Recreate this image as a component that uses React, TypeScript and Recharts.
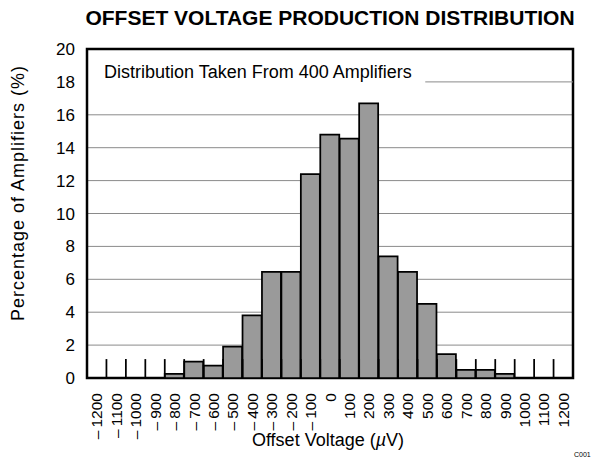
import { BarChart, Bar, XAxis, YAxis, CartesianGrid, ReferenceLine, ReferenceArea } from 'recharts';

const FONT = '"Liberation Sans", Arial, Helvetica, sans-serif';

// bin centres in µV and the share of the 400 parts that fell in each bin
const offsetBins = [
  -1200, -1100, -1000, -900, -800, -700, -600, -500, -400, -300, -200, -100,
  0, 100, 200, 300, 400, 500, 600, 700, 800, 900, 1000, 1100, 1200,
];
const binLabels = [
  '–\u20091200', '–\u20091100', '–\u20091000', '–\u2009900', '–\u2009800', '–\u2009700',
  '–\u2009600', '–\u2009500', '–\u2009400', '–\u2009300', '–\u2009200', '–\u2009100',
  '0', '100', '200', '300', '400', '500', '600', '700', '800', '900', '1000', '1100', '1200',
];
const percentages = [
  0, 0, 0, 0, 0.25, 1.0, 0.75, 1.9, 3.8, 6.45, 6.45, 12.4,
  14.8, 14.55, 16.7, 7.4, 6.45, 4.5, 1.45, 0.5, 0.5, 0.25, 0, 0, 0,
];

const yTicks = [0, 2, 4, 6, 8, 10, 12, 14, 16, 18, 20];
const gridValues = [2, 4, 6, 8, 10, 12, 14, 16];
// short marks standing on the x axis between the bins
const binEdges = [
  -1150, -1050, -950, -850, -750, -650, -550, -450, -350, -250, -150, -50,
  50, 150, 250, 350, 450, 550, 650, 750, 850, 950, 1050, 1150,
];
const EDGE_MARK_HEIGHT = 1.15;
// the 18% grid line only shows to the right of the note
const noteLineStart = 490;

const data = offsetBins.map((v, i) => ({ label: binLabels[i], v, pct: percentages[i] }));

function RotatedTick({ x, y, payload }: any) {
  return (
    <text
      transform={`translate(${x},${y + 7}) rotate(-90)`}
      textAnchor="end"
      dy="0.36em"
      fontSize={15.5}
      fontFamily={FONT}
      fill="#000"
    >
      {payload.value}
    </text>
  );
}

export default function App() {
  return (
    <div style={{ position: 'absolute', left: 0, top: 0, width: 597, height: 459, background: '#fff' }}>
      <BarChart
        width={597}
        height={459}
        data={data}
        margin={{ top: 49, right: 24, left: 0, bottom: 0 }}
        barCategoryGap={0}
      >
        <CartesianGrid vertical={false} horizontalValues={gridValues} stroke="#8a8a8a" strokeWidth={1} />
        <XAxis
          dataKey="label"
          interval={0}
          height={81}
          axisLine={false}
          tickLine={false}
          tick={<RotatedTick />}
        />
        <XAxis xAxisId="edges" type="number" dataKey="v" domain={[-1250, 1250]} allowDataOverflow hide />
        <YAxis
          domain={[0, 20]}
          ticks={yTicks}
          width={87}
          axisLine={false}
          tickLine={false}
          tickSize={0}
          tickMargin={12}
          tick={{ fill: '#000', fontSize: 17, fontFamily: FONT }}
        />
        <ReferenceLine
          xAxisId="edges"
          segment={[{ x: noteLineStart, y: 18 }, { x: 1250, y: 18 }]}
          stroke="#8a8a8a"
          strokeWidth={1}
        />
        <Bar dataKey="pct" fill="#9a9a9a" stroke="#000" strokeWidth={1.75} isAnimationActive={false} />
        {binEdges.map(e => (
          <ReferenceLine
            key={e}
            xAxisId="edges"
            segment={[{ x: e, y: 0 }, { x: e, y: EDGE_MARK_HEIGHT }]}
            stroke="#000"
            strokeWidth={1.75}
          />
        ))}
        <ReferenceArea y1={0} y2={20} fill="none" stroke="#000" strokeWidth={2.5} ifOverflow="visible" />
      </BarChart>
      <svg
        width={597}
        height={459}
        style={{ position: 'absolute', left: 0, top: 0, pointerEvents: 'none' }}
        fontFamily={FONT}
      >
        <text x={330} y={25} textAnchor="middle" fontSize={21} fontWeight="bold" fill="#000">
          OFFSET VOLTAGE PRODUCTION DISTRIBUTION
        </text>
        <text x={104} y={78} fontSize={18} fill="#000">Distribution Taken From 400 Amplifiers</text>
        <text transform="translate(24,193) rotate(-90)" textAnchor="middle" fontSize={18} letterSpacing={1} fill="#000">
          Percentage of Amplifiers (%)
        </text>
        <text x={328} y={446} textAnchor="middle" fontSize={18} fill="#000">
          Offset Voltage (<tspan fontStyle="italic">µ</tspan>V)
        </text>
        <text x={574} y={457} fontSize={7} fill="#000">C001</text>
      </svg>
    </div>
  );
}
